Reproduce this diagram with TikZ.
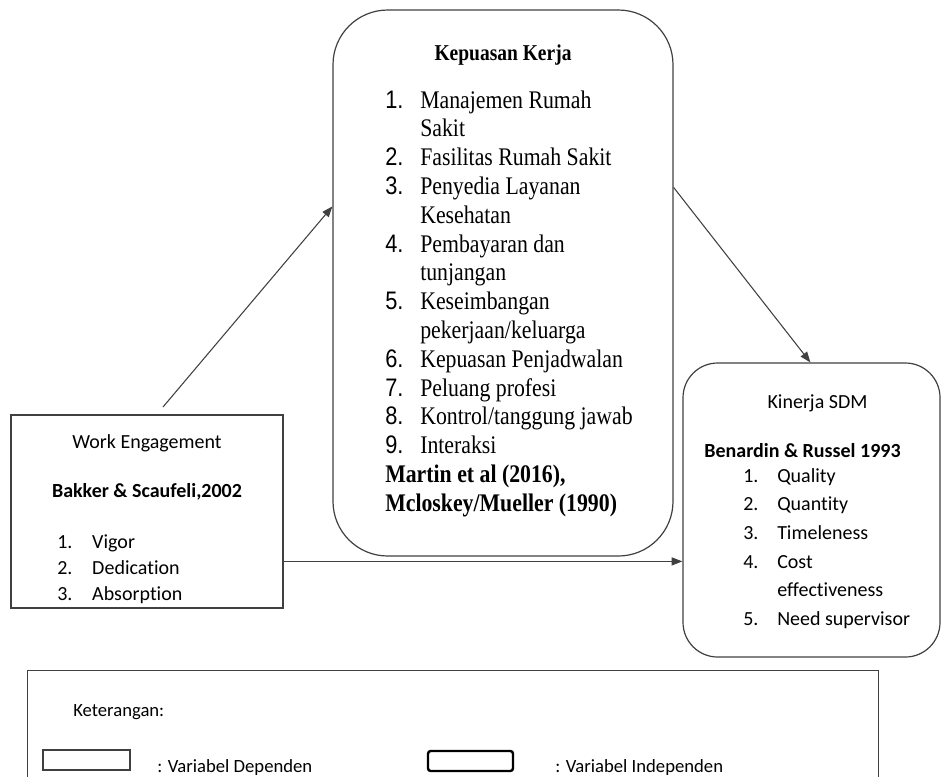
\documentclass[tikz,border=0pt]{standalone}
\usepackage{fontspec}
\setmainfont{Carlito}[Ligatures=NoCommon]
\newfontfamily\timesfont[FakeStretch=0.86]{Liberation Serif}
\newfontfamily\arialfont[FakeStretch=0.86]{Liberation Sans}
\usetikzlibrary{arrows.meta,calc}

\tikzset{
  box/.style={draw=black!75, line width=0.9pt, inner sep=0pt},
  arr/.style={draw=black!75, line width=0.8pt, -{Triangle[length=8pt,width=6pt]}},
  calib/.style={font=\fontsize{15}{19.5}\selectfont},
  serifbody/.style={font=\timesfont\fontsize{19}{21.6}\selectfont},
  legtext/.style={font=\fontsize{14}{17}\selectfont, anchor=base west, inner sep=0pt}
}

\begin{document}
\begin{tikzpicture}[x=0.75pt, y=-0.75pt]
    \clip (0,0) rectangle (942,776);

    % variable boxes
    \node[box, minimum width=272*0.75pt, minimum height=193*0.75pt] (we) at (147,511.5) {};
    \node[box, rounded corners=41pt, minimum width=340*0.75pt, minimum height=546*0.75pt] (kk) at (503,283) {};
    \node[box, rounded corners=26pt, minimum width=257*0.75pt, minimum height=294*0.75pt] (ks) at (811.5,510) {};

    % work engagement
    \node[calib, anchor=base] (wetitle) at (147,448) {Work Engagement};
    \node[calib, anchor=base, font=\fontsize{15}{19.5}\selectfont\bfseries] (weref) at (147,497) {Bakker \& Scaufeli,2002};
    \node[calib, anchor=base west, inner sep=0pt] (welist) at (57,548)
      {\begin{tabular}[t]{@{}p{26.25pt}@{}l@{}}
        1. & Vigor\\
        2. & Dedication\\
        3. & Absorption
      \end{tabular}};

    % kepuasan kerja
    \node[anchor=base, font=\timesfont\bfseries\fontsize{17}{20}\selectfont] (kktitle) at (503,60) {Kepuasan Kerja};
    \node[serifbody, anchor=base west, inner sep=0pt] (kklist) at (385,108)
      {\begin{tabular}[t]{@{}p{26.25pt}@{}l@{}}
        {\arialfont 1.} & Manajemen Rumah\\
                        & Sakit\\
        {\arialfont 2.} & Fasilitas Rumah Sakit\\
        {\arialfont 3.} & Penyedia Layanan\\
                        & Kesehatan\\
        {\arialfont 4.} & Pembayaran dan\\
                        & tunjangan\\
        {\arialfont 5.} & Keseimbangan\\
                        & pekerjaan/keluarga\\
        {\arialfont 6.} & Kepuasan Penjadwalan\\
        {\arialfont 7.} & Peluang profesi\\
        {\arialfont 8.} & Kontrol/tanggung jawab\\
        {\arialfont 9.} & Interaksi\\
        \multicolumn{2}{@{}l@{}}{\bfseries Martin et al (2016),}\\
        \multicolumn{2}{@{}l@{}}{\bfseries Mcloskey/Mueller (1990)}
      \end{tabular}};

    % kinerja sdm
    \node[calib, anchor=base] (kstitle) at (817.5,408) {Kinerja SDM};
    \node[calib, anchor=base, font=\fontsize{15}{19.5}\selectfont\bfseries] (ksref) at (802.5,457) {Benardin \& Russel 1993};
    \node[anchor=base west, inner sep=0pt, font=\fontsize{15}{21.5}\selectfont] (kslist) at (743,482)
      {\begin{tabular}[t]{@{}p{25.5pt}@{}l@{}}
        1. & Quality\\
        2. & Quantity\\
        3. & Timeleness\\
        4. & Cost\\
           & effectiveness\\
        5. & Need supervisor
      \end{tabular}};

    % arrows
    \coordinate (a1s) at (163,407);
    \draw[arr] (a1s) -- ($(kk.north west)+(0,197)$);
    \draw[arr] ($(kk.north east)+(0,178)$) -- ($(ks.north west)+(128,0)$);
    \coordinate (a3s) at ($(we.north east)+(0,147)$);
    \draw[arr] (a3s) -- (ks.west |- a3s);

    % legend
    \node[box, anchor=north west, minimum width=851*0.75pt, minimum height=140*0.75pt] (legend) at (27,670) {};
    \node[legtext] (ket) at (73,716) {Keterangan:};
    \node[box, line width=1pt, minimum width=87*0.75pt, minimum height=20*0.75pt] (depbox) at (86.5,760) {};
    \node[legtext] (deplbl) at (157,772) {: Variabel Dependen};
    \node[box, draw=black, line width=1.8pt, rounded corners=2pt, minimum width=85*0.75pt, minimum height=20*0.75pt] (indbox) at (470.5,761) {};
    \node[legtext] (indlbl) at (555,772) {: Variabel Independen};
\end{tikzpicture}
\end{document}
